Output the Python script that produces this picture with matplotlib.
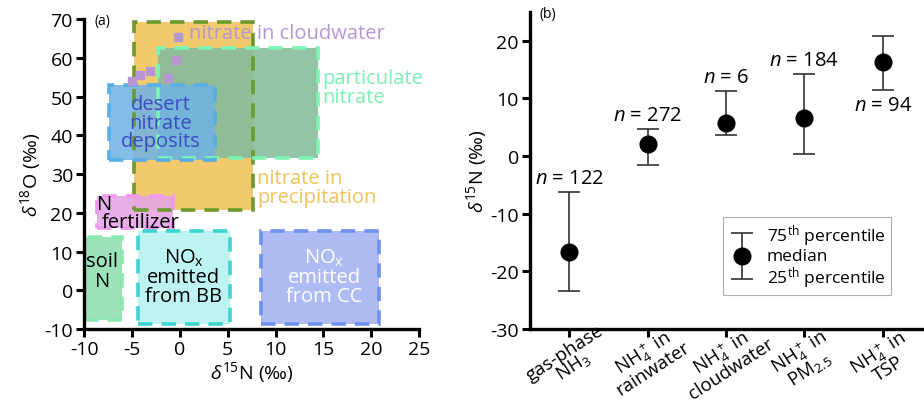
import matplotlib.pyplot as plt
import numpy as np
from matplotlib.patches import Rectangle
from matplotlib.container import ErrorbarContainer
from matplotlib.legend_handler import HandlerErrorbar

plt.rcParams['font.family'] = ['Open Sans', 'DejaVu Sans']
plt.rcParams['mathtext.fontset'] = 'custom'
plt.rcParams['mathtext.rm'] = 'Open Sans'
plt.rcParams['mathtext.it'] = 'Open Sans:italic'
plt.rcParams['mathtext.bf'] = 'Open Sans:bold'
plt.rcParams['axes.unicode_minus'] = False

# panel (a): source boxes (x0, x1, y0, y1)
box_names = ['precip', 'particulate', 'desert', 'fertilizer', 'soil', 'bb', 'cc']
box_x0 = [-4.8, -2.3, -7.4, -8.6, -10.0, -4.4, 8.5]
box_x1 = [7.6, 14.4, 3.7, -0.7, -6.0, 5.2, 20.8]
box_y0 = [20.8, 34.2, 33.7, 16.1, -7.6, -8.6, -8.6]
box_y1 = [69.2, 62.5, 53.0, 24.4, 13.8, 15.4, 15.4]
box_fill = ['#F2C25A', '#84BC9C', '#72B3E3', '#E6A4E6', '#8FE0B2', '#B4F2F0', '#A4B2F2']
box_edge = ['#6C9A2C', '#7CF4B4', '#5AAEE6', '#EE98EE', '#8AE8B0', '#3ED4D0', '#6E92EE']

# nitrate in cloudwater points
cloud_x = [-0.2, -0.4, -1.25, -3.1, -4.2, -5.0]
cloud_y = [65.4, 59.4, 54.8, 56.6, 55.6, 54.0]

# panel (b): delta15N of NHx
cats = ['gas-phase\nNH$_3$', 'NH$_4^+$ in\nrainwater', 'NH$_4^+$ in\ncloudwater',
        'NH$_4^+$ in\nPM$_{2.5}$', 'NH$_4^+$ in\nTSP']
med = np.array([-16.7, 2.1, 5.7, 6.6, 16.3])
p75 = np.array([-6.2, 4.7, 11.3, 14.2, 20.8])
p25 = np.array([-23.4, -1.6, 3.7, 0.35, 11.5])
n_obs = [122, 272, 6, 184, 94]

fs = 14.5

fig = plt.figure(figsize=(9.24, 4.02), dpi=100)
ax1 = fig.add_axes([0.091, 0.179, 0.3626, 0.771])
ax2 = fig.add_axes([0.5736, 0.179, 0.424, 0.789])

for ax in [ax1, ax2]:
    ax.spines['top'].set_visible(False)
    ax.spines['right'].set_visible(False)
    ax.spines['left'].set_linewidth(2.4)
    ax.spines['bottom'].set_linewidth(2.4)
    ax.tick_params(width=2.2, length=6, labelsize=14, pad=2)

# fills first, dashed edges on top
for i in range(len(box_names)):
    w = box_x1[i] - box_x0[i]
    h = box_y1[i] - box_y0[i]
    ax1.add_patch(Rectangle((box_x0[i], box_y0[i]), w, h, facecolor=box_fill[i],
                            edgecolor='none', alpha=0.88, zorder=1))
for i in range(len(box_names)):
    w = box_x1[i] - box_x0[i]
    h = box_y1[i] - box_y0[i]
    ax1.add_patch(Rectangle((box_x0[i], box_y0[i]), w, h, facecolor='none',
                            edgecolor=box_edge[i], lw=2.6, ls=(0, (4, 2.5)), zorder=2))

ax1.scatter(cloud_x, cloud_y, marker='s', s=34, color='#B596D2', zorder=3)

ax1.text(1.0, 66.4, 'nitrate in cloudwater', color='#B596D2', fontsize=fs,
         ha='left', va='center', zorder=4)
ax1.text(14.9, 52.3, 'particulate\nnitrate', color='#7CF0B4', fontsize=fs,
         ha='left', va='center', linespacing=0.95, zorder=4)
ax1.text(-2.0, 43.3, 'desert\nnitrate\ndeposits', color='#3A4CC4', fontsize=fs,
         ha='center', va='center', linespacing=0.92, zorder=4)
ax1.text(8.1, 26.5, 'nitrate in\nprecipitation', color='#F2C25A', fontsize=fs,
         ha='left', va='center', linespacing=0.95, zorder=4)
ax1.text(-8.7, 22.4, 'N', fontsize=fs, ha='left', va='center', zorder=4)
ax1.text(-8.2, 17.5, 'fertilizer', fontsize=fs, ha='left', va='center', zorder=4)
ax1.text(-8.1, 5.0, 'soil\nN', fontsize=fs, ha='center', va='center',
         linespacing=0.95, zorder=4)
ax1.text(0.4, 3.6, 'NO$_\\mathrm{x}$\nemitted\nfrom BB', fontsize=fs, ha='center',
         va='center', linespacing=0.95, zorder=4)
ax1.text(15.1, 3.6, 'NO$_\\mathrm{x}$\nemitted\nfrom CC', fontsize=fs, color='white',
         ha='center', va='center', linespacing=0.95, zorder=4)

ax1.set_xlim(-10, 25)
ax1.set_ylim(-10, 70)
ax1.set_xticks(np.arange(-10, 26, 5))
ax1.set_yticks(np.arange(-10, 71, 10))
ax1.set_xlabel('$\\delta^{15}$N (‰)', fontsize=14, labelpad=1)
ax1.set_ylabel('$\\delta^{18}$O (‰)', fontsize=14, labelpad=1)
ax1.text(0.03, 0.995, '(a)', transform=ax1.transAxes, fontsize=10, ha='left', va='center')

# panel (b)
xpos = np.arange(len(cats))
eb = ax2.errorbar(xpos, med, yerr=[med - p25, p75 - med], fmt='o', color='black',
                  markersize=12, ecolor='#333333', elinewidth=1.2, capsize=8,
                  capthick=1.2,
                  label='75$^\\mathrm{th}$ percentile\nmedian\n25$^\\mathrm{th}$ percentile')
for i in range(len(cats)):
    if i < 4:
        yy = p75[i] + 2.4
    else:
        yy = p25[i] - 2.7
    ax2.text(xpos[i], yy, '$n$ = %d' % n_obs[i], fontsize=fs, ha='center', va='center')

ax2.set_xlim(-0.5, 4.5)
ax2.set_ylim(-30, 25)
ax2.set_yticks(np.arange(-30, 21, 10))
ax2.set_xticks(xpos)
ax2.set_xticklabels(cats, rotation=33, rotation_mode='anchor', ha='center', va='center',
                    linespacing=0.8)
ax2.tick_params(axis='x', pad=16, labelsize=13.5)
ax2.set_ylabel('$\\delta^{15}$N (‰)', fontsize=14, labelpad=1)
ax2.text(0.025, 0.995, '(b)', transform=ax2.transAxes, fontsize=10, ha='left', va='center')

leg = ax2.legend(handles=[eb], loc='center', bbox_to_anchor=(0.707, 0.23),
                 fontsize=12.5, frameon=True, fancybox=False, edgecolor='#999999',
                 handlelength=1.6, handletextpad=0.6, borderpad=0.3,
                 handler_map={ErrorbarContainer: HandlerErrorbar(xerr_size=0.5, yerr_size=1.3)})
leg.get_frame().set_linewidth(0.8)
for t in leg.get_texts():
    t.set_linespacing(1.0)

fig.savefig('out.png', dpi=100)
